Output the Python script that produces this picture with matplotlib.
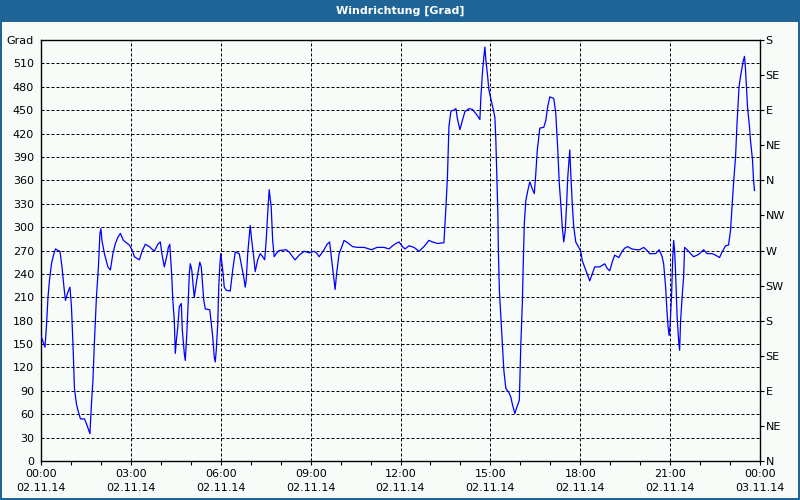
import matplotlib
matplotlib.use("Agg")
import matplotlib.pyplot as plt
from matplotlib.patches import Rectangle

# wind direction readings, minutes since 02.11.14 00:00
minutes = [
    0, 4, 8, 11, 14, 17, 21, 25, 29, 34, 38, 42, 46, 49, 53, 58, 61, 64, 67, 71,
    74, 79, 87, 91, 98, 101, 104, 107, 111, 115, 118, 120, 122, 127, 134, 139, 144, 149, 154, 159,
    165, 171, 177, 183, 187, 197, 203, 209, 217, 227, 234, 239, 242, 247, 253, 255, 258, 259, 262, 264,
    267, 269, 271, 274, 277, 281, 283, 287, 289, 292, 295, 297, 299, 302, 305, 307, 311, 314, 318, 321,
    323, 326, 329, 338, 341, 344, 347, 349, 351, 354, 356, 358, 360,
    364, 367, 371, 379, 384, 389, 397, 402, 406, 409, 411, 414, 419, 422, 426, 429, 434, 439, 444, 448,
    451, 454, 457, 461, 464, 467, 471, 477, 491, 497, 504, 509, 517, 527, 537, 547, 553, 557, 566, 573,
    578, 583, 586, 589, 592, 597, 602, 607, 614, 624, 634, 647, 657, 662, 673, 687, 697, 704, 711, 717,
    724, 729, 737, 747, 757, 767, 777, 784, 794, 807, 811, 814, 817, 821, 827, 831, 834, 839, 844, 849,
    857, 864, 874, 879, 881, 884, 887, 889, 891, 894, 897, 904, 909, 911, 913, 915, 916, 918, 921, 924,
    927, 931, 937, 941, 944, 949, 953, 958, 961, 964, 966, 968, 971, 975, 979, 984, 988, 991, 994, 999,
    1007, 1011, 1015, 1019, 1027, 1031, 1035, 1038, 1041, 1044, 1047, 1050, 1053, 1055, 1059, 1061, 1064, 1067, 1071, 1077,
    1081, 1084, 1091, 1099, 1104, 1109, 1119, 1129, 1134, 1139, 1144, 1149, 1157, 1164, 1169, 1175, 1183, 1193, 1199, 1207,
    1214, 1219, 1231, 1238, 1244, 1247, 1251, 1254, 1256, 1258, 1260, 1263, 1265, 1267, 1269, 1271, 1274, 1277, 1279, 1281,
    1284, 1287, 1289, 1294, 1301, 1307, 1314, 1319, 1327, 1334, 1344, 1351, 1359, 1364, 1371, 1377, 1381, 1384, 1387, 1391,
    1394, 1398, 1402, 1406, 1409, 1411, 1415, 1419, 1421, 1425, 1427, 1429,
]
grad = [
    161, 153, 146, 174, 210, 232, 253, 264, 272, 270, 269, 249, 223, 206, 215, 223, 198, 150, 93, 73,
    65, 54, 54, 48, 35, 73, 103, 153, 210, 249, 292, 298, 283, 266, 249, 245, 266, 279, 287, 292,
    283, 280, 277, 270, 262, 258, 270, 278, 275, 269, 278, 281, 266, 249, 266, 274, 278, 266, 236, 206,
    180, 138, 154, 172, 198, 202, 168, 138, 129, 163, 206, 240, 253, 245, 223, 210, 228, 240, 255, 249,
    232, 206, 195, 194, 176, 159, 133, 127, 142, 176, 223, 249, 266,
    245, 223, 219, 218, 245, 268, 266, 249, 236, 223, 232, 266, 302, 283, 262, 243, 258, 266, 262, 258,
    283, 317, 348, 326, 283, 262, 266, 270, 271, 268, 262, 258, 264, 269, 267, 269, 266, 262, 270, 278,
    281, 253, 236, 220, 240, 266, 274, 283, 280, 275, 274, 274, 272, 271, 274, 274, 272, 276, 279, 281,
    275, 272, 276, 274, 269, 275, 283, 281, 279, 280, 326, 364, 429, 449, 450, 452, 439, 425, 437, 448,
    452, 451, 443, 438, 467, 497, 519, 531, 514, 497, 476, 456, 441, 411, 364, 317, 270, 219, 185, 151,
    116, 93, 88, 82, 73, 61, 69, 78, 150, 202, 257, 305, 334, 347, 358, 349, 343, 369, 399, 427,
    428, 437, 455, 467, 465, 446, 399, 356, 330, 300, 281, 296, 334, 364, 399, 369, 330, 300, 281, 274,
    269, 257, 245, 231, 240, 249, 249, 253, 247, 244, 255, 264, 261, 269, 273, 275, 272, 271, 271, 274,
    270, 266, 266, 271, 262, 253, 223, 189, 172, 161, 174, 215, 257, 283, 270, 240, 185, 155, 142, 180,
    210, 236, 274, 271, 266, 262, 264, 266, 271, 266, 266, 264, 261, 268, 276, 277, 296, 326, 356, 390,
    433, 480, 497, 512, 519, 502, 454, 428, 411, 386, 360, 347,
]

left_ticks = list(range(0, 541, 30))
left_labels = [str(v) for v in left_ticks[:-1]] + ["Grad"]
right_ticks = list(range(0, 541, 45))
right_labels = ["N", "NE", "E", "SE", "S", "SW", "W", "NW", "N", "NE", "E", "SE", "S"]
time_ticks = list(range(0, 1441, 180))
time_labels = ["00:00\n02.11.14", "03:00\n02.11.14", "06:00\n02.11.14", "09:00\n02.11.14",
               "12:00\n02.11.14", "15:00\n02.11.14", "18:00\n02.11.14", "21:00\n02.11.14",
               "00:00\n03.11.14"]

blue_bar = "#1E6496"
paper = "#F8FCF8"

fig = plt.figure(figsize=(8, 5), dpi=100, facecolor=blue_bar)
fig.patches.append(Rectangle((2 / 800, 2 / 500), 796 / 800, 476 / 500, transform=fig.transFigure,
                             facecolor=paper, edgecolor="none", zorder=-10))
fig.text(0.5, 1 - 10.5 / 500, "Windrichtung [Grad]", color="white", fontsize=8, fontweight="bold",
         ha="center", va="center")

ax = fig.add_axes([41 / 800, 39 / 500, 719 / 800, 421 / 500])
ax.set_facecolor(paper)
ax.plot(minutes, grad, color="#0000FF", lw=0.9, zorder=3)

ax.set_xlim(0, 1440)
ax.set_ylim(0, 540)

for v in range(30, 540, 30):
    ax.axhline(v, color="black", lw=0.72, linestyle=(0, (3, 2)), zorder=1)
for t in range(180, 1440, 180):
    ax.axvline(t, color="black", lw=0.72, linestyle=(0, (3, 2)), zorder=1)

ax.set_xticks(time_ticks)
ax.set_xticklabels(time_labels, fontsize=8, linespacing=1.45)
ax.set_xticks(range(0, 1441, 60), minor=True)
ax.tick_params(axis="x", which="both", direction="out", length=3, width=0.8, pad=3)

ax.set_yticks(left_ticks)
ax.set_yticklabels(left_labels, fontsize=8)
ax.tick_params(axis="y", direction="out", length=0, pad=5)

for s in ax.spines.values():
    s.set_color("black")
    s.set_linewidth(1)

ax2 = ax.twinx()
ax2.set_ylim(0, 540)
ax2.set_yticks(right_ticks)
ax2.set_yticklabels(right_labels, fontsize=8)
ax2.tick_params(axis="y", direction="out", length=3, width=0.8, pad=1)
for s in ax2.spines.values():
    s.set_visible(False)

fig.savefig("out.png", dpi=100, facecolor=blue_bar)
